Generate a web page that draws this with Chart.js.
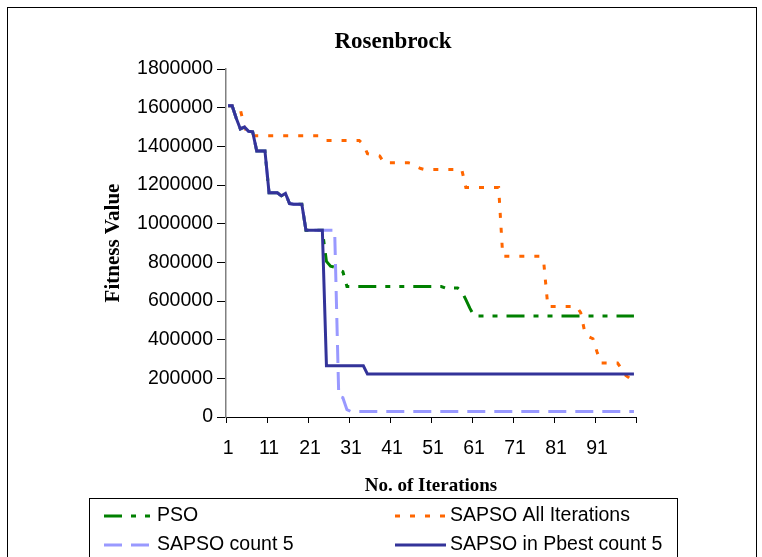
<!DOCTYPE html>
<html><head><meta charset="utf-8">
<script src="https://cdn.jsdelivr.net/npm/chart.js@4.4.0/dist/chart.umd.min.js"></script>
<style>html,body{margin:0;padding:0;background:#fff;}</style>
</head><body>
<canvas id="c" width="762" height="557"></canvas>
<script>
const iterationLabels = [
  1,2,3,4,5,6,7,8,9,10,
  11,12,13,14,15,16,17,18,19,20,
  21,22,23,24,25,26,27,28,29,30,
  31,32,33,34,35,36,37,38,39,40,
  41,42,43,44,45,46,47,48,49,50,
  51,52,53,54,55,56,57,58,59,60,
  61,62,63,64,65,66,67,68,69,70,
  71,72,73,74,75,76,77,78,79,80,
  81,82,83,84,85,86,87,88,89,90,
  91,92,93,94,95,96,97,98,99,100
];
const seriesNames = ['PSO', 'SAPSO All Iterations', 'SAPSO count 5', 'SAPSO in Pbest count 5'];
const psoValues = [
  1610000,1610000,1545000,1490000,1500000,1478000,1475000,1376000,1376000,1376000,
  1160000,1160000,1160000,1144000,1156000,1104000,1100000,1100000,1100000,966000,
  966000,966000,966000,966000,805000,780000,775000,762000,752000,675000,
  675000,675000,675000,675000,675000,675000,675000,675000,675000,675000,
  675000,675000,675000,675000,675000,675000,675000,675000,675000,675000,
  675000,675000,675000,667000,667000,667000,667000,650000,607000,562000,
  522000,522000,522000,522000,522000,522000,522000,522000,522000,522000,
  522000,522000,522000,522000,522000,522000,522000,522000,522000,522000,
  522000,522000,522000,522000,522000,522000,522000,522000,522000,522000,
  522000,522000,522000,522000,522000,522000,522000,522000,522000,522000
];
const sapsoAllValues = [
  1610000,1610000,1605000,1590000,1500000,1458000,1455000,1455000,1455000,1455000,
  1455000,1455000,1455000,1455000,1455000,1455000,1455000,1455000,1455000,1455000,
  1455000,1455000,1455000,1450000,1430000,1430000,1430000,1430000,1430000,1430000,
  1430000,1430000,1430000,1410000,1362000,1358000,1356000,1350000,1315000,1315000,
  1315000,1315000,1315000,1315000,1315000,1310000,1295000,1285000,1280000,1280000,
  1280000,1280000,1280000,1280000,1280000,1280000,1280000,1280000,1187000,1187000,
  1187000,1187000,1187000,1187000,1187000,1187000,1187000,832000,832000,832000,
  832000,832000,832000,832000,832000,832000,832000,800000,571000,571000,
  571000,571000,571000,571000,571000,571000,540000,440000,415000,405000,
  336000,279000,279000,279000,279000,279000,248000,215000,200000,195000
];
const sapsoCount5Values = [
  1610000,1610000,1545000,1490000,1500000,1478000,1475000,1376000,1376000,1376000,
  1160000,1160000,1160000,1144000,1156000,1104000,1100000,1100000,1100000,966000,
  966000,966000,966000,966000,966000,966000,966000,108000,100000,38000,
  28000,28000,28000,28000,28000,28000,28000,28000,28000,28000,
  28000,28000,28000,28000,28000,28000,28000,28000,28000,28000,
  28000,28000,28000,28000,28000,28000,28000,28000,28000,28000,
  28000,28000,28000,28000,28000,28000,28000,28000,28000,28000,
  28000,28000,28000,28000,28000,28000,28000,28000,28000,28000,
  28000,28000,28000,28000,28000,28000,28000,28000,28000,28000,
  28000,28000,28000,28000,28000,28000,28000,28000,28000,28000
];
const sapsoPbestValues = [
  1610000,1610000,1545000,1490000,1500000,1478000,1475000,1376000,1376000,1376000,
  1160000,1160000,1160000,1144000,1156000,1104000,1100000,1100000,1100000,966000,
  966000,966000,966000,966000,265000,265000,265000,265000,265000,265000,
  265000,265000,265000,265000,222000,222000,222000,222000,222000,222000,
  222000,222000,222000,222000,222000,222000,222000,222000,222000,222000,
  222000,222000,222000,222000,222000,222000,222000,222000,222000,222000,
  222000,222000,222000,222000,222000,222000,222000,222000,222000,222000,
  222000,222000,222000,222000,222000,222000,222000,222000,222000,222000,
  222000,222000,222000,222000,222000,222000,222000,222000,222000,222000,
  222000,222000,222000,222000,222000,222000,222000,222000,222000,222000
];
const yMin = 0, yMax = 1800000, yStep = 200000;

const SANS = "'Liberation Sans', Arial, sans-serif";
const SERIF = "'Liberation Serif', 'Times New Roman', serif";

const outerBorder = {
  id: 'outerBorder',
  beforeDraw(chart) {
    const ctx = chart.ctx;
    ctx.save();
    ctx.fillStyle = '#fff';
    ctx.fillRect(0, 0, chart.width, chart.height);
    ctx.strokeStyle = '#000';
    ctx.lineWidth = 1;
    ctx.strokeRect(7.5, 7.5, 749, 620);
    ctx.restore();
  }
};

const boxLegend = {
  id: 'boxLegend',
  afterDraw(chart) {
    const ctx = chart.ctx;
    ctx.save();
    ctx.strokeStyle = '#000';
    ctx.lineWidth = 1;
    ctx.strokeRect(89.5, 498.5, 588, 120);
    const slots = [
      {x0: 104, x1: 150, tx: 157, y: 516},
      {x0: 395, x1: 445, tx: 450, y: 516},
      {x0: 104, x1: 150, tx: 157, y: 545},
      {x0: 395, x1: 446, tx: 450, y: 545}
    ];
    chart.data.datasets.forEach((ds, i) => {
      const s = slots[i];
      ctx.beginPath();
      ctx.setLineDash(ds.borderDash || []);
      ctx.strokeStyle = ds.borderColor;
      ctx.lineWidth = ds.borderWidth;
      ctx.lineCap = 'butt';
      ctx.moveTo(s.x0, s.y);
      ctx.lineTo(s.x1, s.y);
      ctx.stroke();
      ctx.setLineDash([]);
      ctx.fillStyle = '#000';
      ctx.font = '19.5px ' + SANS;
      ctx.textBaseline = 'middle';
      ctx.textAlign = 'left';
      ctx.fillText(ds.label, s.tx, s.y);
    });
    ctx.restore();
  }
};

new Chart(document.getElementById('c'), {
  type: 'line',
  data: {
    labels: iterationLabels,
    datasets: [
      {label: seriesNames[0], data: psoValues, borderColor: '#008000', borderWidth: 3, borderDash: [18, 9, 5, 9, 5, 9], order: 4},
      {label: seriesNames[1], data: sapsoAllValues, borderColor: '#FF6600', borderWidth: 3, borderDash: [5, 10], order: 3},
      {label: seriesNames[2], data: sapsoCount5Values, borderColor: '#9999FF', borderWidth: 3, borderDash: [18, 9], order: 2},
      {label: seriesNames[3], data: sapsoPbestValues, borderColor: '#333399', borderWidth: 3, order: 1}
    ]
  },
  options: {
    responsive: false,
    animation: false,
    events: [],
    elements: { point: { radius: 0 }, line: { tension: 0, fill: false } },
    layout: { padding: { left: 24, right: 0, top: 0, bottom: 0 } },
    plugins: {
      legend: { display: false },
      tooltip: { enabled: false },
      title: {
        display: true, text: 'Rosenbrock', color: '#000',
        font: { family: SERIF, size: 23, weight: 'bold' },
        padding: { top: 28, bottom: 13.4 }
      }
    },
    scales: {
      x: {
        type: 'category', offset: true,
        ticks: {
          autoSkip: false, maxRotation: 0, minRotation: 0, color: '#000', padding: 14,
          font: { family: SANS, size: 19.5 },
          callback: function(v, i) { return i % 10 === 0 ? String(iterationLabels[i]) : ''; }
        },
        grid: {
          offset: true, drawOnChartArea: false, drawTicks: true, tickLength: 6,
          color: (c) => (c.index === undefined || c.index % 10 === 0) ? '#000' : 'rgba(0,0,0,0)'
        },
        border: { color: '#000', width: 1 },
        title: {
          display: true, text: 'No. of Iterations', color: '#000',
          font: { family: SERIF, size: 19, weight: 'bold' },
          padding: { top: 0, bottom: 59.6 }
        },
        afterFit: (s) => { s.height = 140; }
      },
      y: {
        min: yMin, max: yMax,
        ticks: {
          stepSize: yStep, color: '#000', padding: 4,
          font: { family: SANS, size: 19.5 },
          callback: (v) => String(v)
        },
        grid: { drawOnChartArea: false, drawTicks: true, tickLength: 9, color: '#000' },
        border: { color: '#808080', width: 1.5 },
        title: {
          display: true, text: 'Fitness Value', color: '#000',
          font: { family: SERIF, size: 21, weight: 'bold' },
          padding: { top: 77.4, bottom: 0 }
        },
        afterFit: (s) => { s.width = 202; }
      },
      yRight: {
        position: 'right', display: true,
        grid: { display: false, drawTicks: false },
        ticks: { display: false },
        border: { display: false },
        afterFit: (s) => { s.width = 126; }
      }
    }
  },
  plugins: [outerBorder, boxLegend]
});
</script>
</body></html>
